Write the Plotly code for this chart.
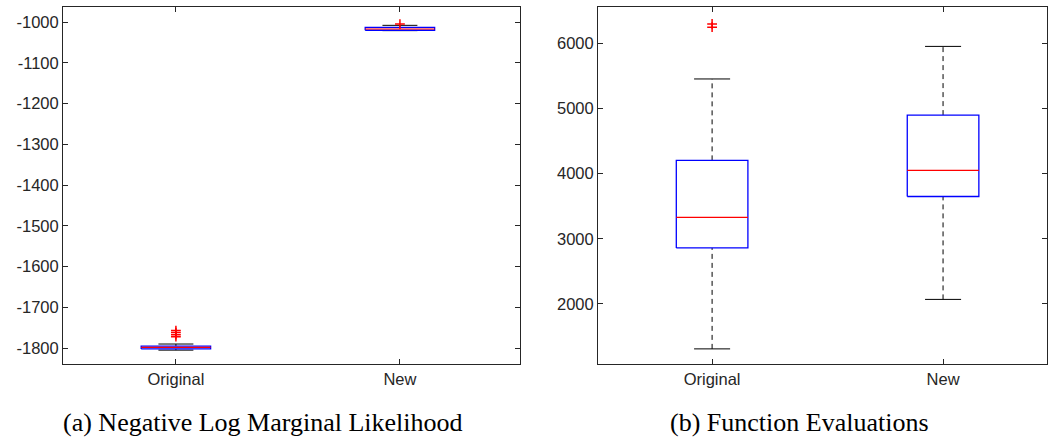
import plotly.graph_objects as go

# Categories shared by both panels
categories = ["Original", "New"]

# (a) Negative log marginal likelihood: box-plot statistics
nlml_lower = [-1805, -1021]
nlml_q1 = [-1802, -1020]
nlml_median = [-1798, -1017]
nlml_q3 = [-1795, -1013]
nlml_upper = [-1790, -1008]
nlml_outliers = [[-1757, -1762, -1767, -1772], [-1005]]
nlml_ticks = [-1800, -1700, -1600, -1500, -1400, -1300, -1200, -1100, -1000]

# (b) Function evaluations: box-plot statistics
fev_lower = [1310, 2070]
fev_q1 = [2860, 3650]
fev_median = [3330, 4050]
fev_q3 = [4205, 4900]
fev_upper = [5455, 5955]
fev_outliers = [[6250, 6300], []]
fev_ticks = [2000, 3000, 4000, 5000, 6000]

BOX_HALF = 0.155
CAP_HALF = 0.078
AXIS_COLOR = "#262626"
TICK_FONT = dict(family="Liberation Sans, Arial, sans-serif", size=16.5, color=AXIS_COLOR)

fig = go.Figure()


def add_boxes(stats, outliers, xa, ya):
    lower, q1, med, q3, upper = stats
    for i in range(len(categories)):
        c = i + 1
        # dashed whiskers
        for a, b in ((q3[i], upper[i]), (lower[i], q1[i])):
            fig.add_trace(go.Scatter(x=[c, c], y=[a, b], mode="lines",
                                     line=dict(color="black", width=1, dash="5px,4px"),
                                     xaxis=xa, yaxis=ya, hoverinfo="skip"))
        # whisker caps
        for v in (upper[i], lower[i]):
            fig.add_trace(go.Scatter(x=[c - CAP_HALF, c + CAP_HALF], y=[v, v], mode="lines",
                                     line=dict(color="black", width=1),
                                     xaxis=xa, yaxis=ya, hoverinfo="skip"))
        # box
        fig.add_trace(go.Scatter(
            x=[c - BOX_HALF, c + BOX_HALF, c + BOX_HALF, c - BOX_HALF, c - BOX_HALF],
            y=[q1[i], q1[i], q3[i], q3[i], q1[i]], mode="lines",
            line=dict(color="#0000ff", width=1.3), xaxis=xa, yaxis=ya, hoverinfo="skip"))
        # median
        fig.add_trace(go.Scatter(x=[c - BOX_HALF, c + BOX_HALF], y=[med[i], med[i]], mode="lines",
                                 line=dict(color="#ff0000", width=1.2),
                                 xaxis=xa, yaxis=ya, hoverinfo="skip"))
        # outliers
        if outliers[i]:
            fig.add_trace(go.Scatter(x=[c] * len(outliers[i]), y=outliers[i], mode="markers",
                                     marker=dict(symbol="cross-thin", size=7,
                                                 line=dict(color="#ff0000", width=1.5)),
                                     xaxis=xa, yaxis=ya, hoverinfo="skip"))


add_boxes((nlml_lower, nlml_q1, nlml_median, nlml_q3, nlml_upper), nlml_outliers, "x", "y")
add_boxes((fev_lower, fev_q1, fev_median, fev_q3, fev_upper), fev_outliers, "x2", "y2")

W, H = 1055, 440
y_dom = [1 - 364 / H, 1 - 7 / H]

common_x = dict(tickvals=[1, 2], ticktext=categories, ticks="inside", ticklen=5,
                tickcolor=AXIS_COLOR, showline=True, linecolor=AXIS_COLOR, linewidth=1,
                mirror="ticks", showgrid=False, zeroline=False, tickfont=TICK_FONT)
common_y = dict(ticks="inside", ticklen=5, tickcolor=AXIS_COLOR, showline=True,
                linecolor=AXIS_COLOR, linewidth=1, mirror="ticks", showgrid=False,
                zeroline=False, tickfont=TICK_FONT, domain=y_dom)

caption_font = dict(family="Liberation Serif, serif", size=26, color="black")

fig.update_layout(
    width=W, height=H, margin=dict(l=0, r=0, t=0, b=0),
    paper_bgcolor="white", plot_bgcolor="white", showlegend=False,
    xaxis=dict(common_x, domain=[63 / W, 520 / W], range=[0.496, 2.536], anchor="y"),
    yaxis=dict(common_y, range=[-1839, -963], tickvals=nlml_ticks,
               ticktext=[str(v) for v in nlml_ticks], anchor="x"),
    xaxis2=dict(common_x, domain=[598 / W, 1047 / W], range=[0.506, 2.45], anchor="y2"),
    yaxis2=dict(common_y, range=[1078, 6560], tickvals=fev_ticks,
                ticktext=[str(v) for v in fev_ticks], anchor="x2"),
    annotations=[
        dict(text="(a) Negative Log Marginal Likelihood", x=263 / W, y=1 - 422 / H,
             xref="paper", yref="paper", showarrow=False, xanchor="center", yanchor="middle",
             font=caption_font),
        dict(text="(b) Function Evaluations", x=799 / W, y=1 - 422 / H,
             xref="paper", yref="paper", showarrow=False, xanchor="center", yanchor="middle",
             font=caption_font),
    ],
)

fig.write_html("out.html")
